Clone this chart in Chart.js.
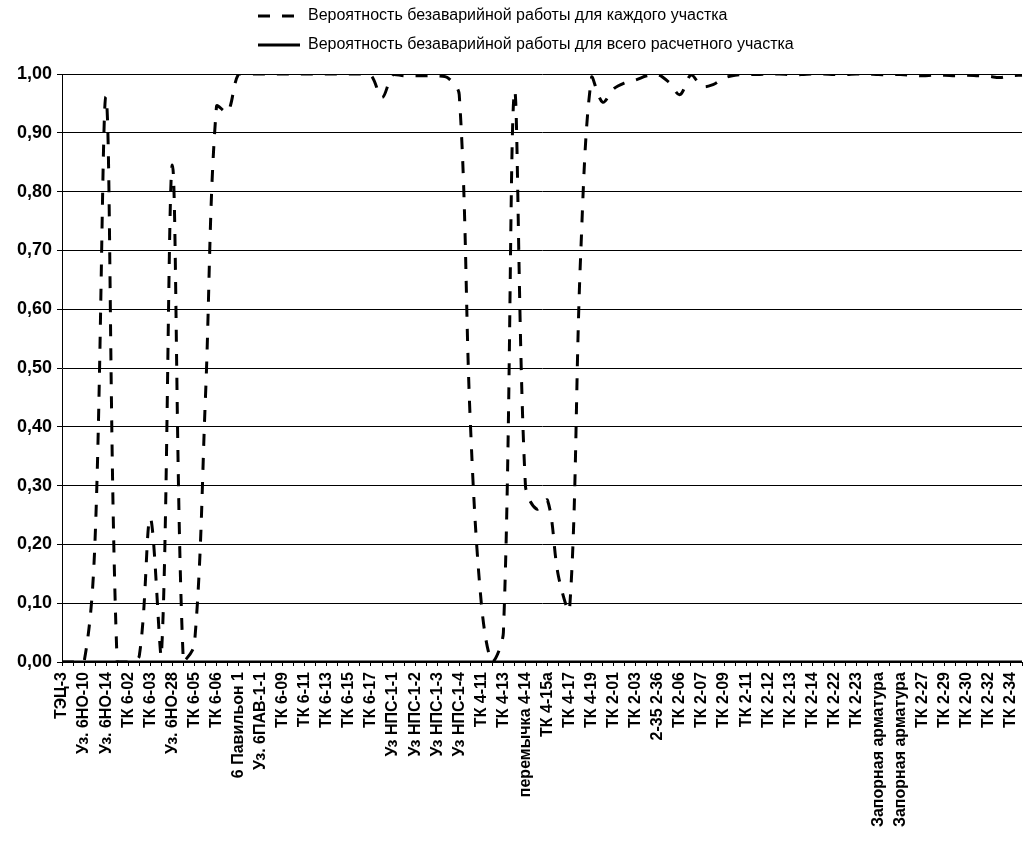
<!DOCTYPE html>
<html>
<head>
<meta charset="utf-8">
<script src="https://cdn.jsdelivr.net/npm/chart.js@4.4.1/dist/chart.umd.min.js"></script>
<style>
  html, body { margin: 0; padding: 0; background: #ffffff; }
  #c { display: block; }
</style>
</head>
<body>
<canvas id="c" width="1024" height="849"></canvas>
<script>
// ---- data ----
const axisLabels = [
  'ТЭЦ-3', 'Уз. 6НО-10', 'Уз. 6НО-14', 'ТК 6-02', 'ТК 6-03', 'Уз. 6НО-28', 'ТК 6-05', 'ТК 6-06',
  '6 Павильон 1', 'Уз. 6ПАВ-1-1', 'ТК 6-09', 'ТК 6-11', 'ТК 6-13', 'ТК 6-15', 'ТК 6-17',
  'Уз НПС-1-1', 'Уз НПС-1-2', 'Уз НПС-1-3', 'Уз НПС-1-4', 'ТК 4-11', 'ТК 4-13', 'перемычка 4-14',
  'ТК 4-15а', 'ТК 4-17', 'ТК 4-19', 'ТК 2-01', 'ТК 2-03', '2-35 2-36', 'ТК 2-06', 'ТК 2-07',
  'ТК 2-09', 'ТК 2-11', 'ТК 2-12', 'ТК 2-13', 'ТК 2-14', 'ТК 2-22', 'ТК 2-23',
  'Запорная арматура', 'Запорная арматура', 'ТК 2-27', 'ТК 2-29', 'ТК 2-30', 'ТК 2-32', 'ТК 2-34'
];

const seriesNames = [
  'Вероятность безаварийной работы для каждого участка',
  'Вероятность безаварийной работы для всего расчетного участка'
];

const probEachSection = [
  0, 0, 0, 0.21, 0.96, 0, 0, 0.01, 0.245, 0.01,
  0.845, 0, 0.03, 0.45, 0.945, 0.935, 1.0, 1.0, 1.0, 1.0,
  1.0, 1.0, 1.0, 1.0, 1.0, 1.0, 1.0, 1.0, 0.998, 0.96,
  0.999, 0.997, 0.997, 0.997, 0.997, 0.993, 0.965, 0.41, 0.10, 0.0,
  0.05, 0.97, 0.30, 0.26, 0.275, 0.145, 0.09, 0.69, 0.995, 0.952,
  0.975, 0.985, 0.99, 0.997, 0.999, 0.986, 0.965, 0.998, 0.979, 0.982,
  0.993, 0.998, 0.999, 0.999, 1.0, 1.0, 0.999, 0.999, 1.0, 1.0,
  0.999, 0.999, 1.0, 1.0, 0.999, 0.999, 0.999, 0.998, 0.997, 0.998,
  0.998, 0.997, 0.998, 0.997, 0.996, 0.994, 0.997, 0.998
];

const probWholeSection = [
  0, 0, 0, 0, 0, 0, 0, 0, 0, 0,
  0, 0, 0, 0, 0, 0, 0, 0, 0, 0,
  0, 0, 0, 0, 0, 0, 0, 0, 0, 0,
  0, 0, 0, 0, 0, 0, 0, 0, 0, 0,
  0, 0, 0, 0, 0, 0, 0, 0, 0, 0,
  0, 0, 0, 0, 0, 0, 0, 0, 0, 0,
  0, 0, 0, 0, 0, 0, 0, 0, 0, 0,
  0, 0, 0, 0, 0, 0, 0, 0, 0, 0,
  0, 0, 0, 0, 0, 0, 0, 0
];

const yTickLabels = ['0,00', '0,10', '0,20', '0,30', '0,40', '0,50', '0,60', '0,70', '0,80', '0,90', '1,00'];

// every second category carries a visible label
const categories = probEachSection.map((_, i) => (i % 2 === 0 && axisLabels[i / 2] !== undefined) ? axisLabels[i / 2] : '');

// ---- style ----
const FONT = "'Liberation Sans', Arial, sans-serif";

const legendPlacer = {
  id: 'legendPlacer',
  afterLayout(chart) {
    const lg = chart.legend;
    if (!lg) return;
    lg.left = 245;
    lg.right = 245 + 700;
    lg.top = -5;
    lg.bottom = lg.top + 200;
  }
};

new Chart(document.getElementById('c'), {
  type: 'line',
  data: {
    labels: categories,
    datasets: [
      {
        label: seriesNames[0],
        data: probEachSection,
        borderColor: '#000000',
        backgroundColor: '#000000',
        borderWidth: 3,
        borderDash: [12, 12],
        pointRadius: 0,
        tension: 0.35,
        fill: false
      },
      {
        label: seriesNames[1],
        data: probWholeSection,
        borderColor: '#000000',
        backgroundColor: '#000000',
        borderWidth: 3,
        pointRadius: 0,
        tension: 0,
        fill: false
      }
    ]
  },
  options: {
    responsive: false,
    animation: false,
    devicePixelRatio: 1,
    layout: { padding: { top: 74, left: 0, right: 2, bottom: 0 } },
    plugins: {
      tooltip: { enabled: false },
      title: { display: false },
      legend: {
        display: true,
        position: 'chartArea',
        align: 'start',
        labels: {
          color: '#000000',
          font: { family: FONT, size: 16 },
          usePointStyle: false,
          boxWidth: 42,
          boxHeight: 0,
          padding: 13
        }
      }
    },
    scales: {
      x: {
        type: 'category',
        offset: false,
        grid: {
          display: true,
          drawOnChartArea: false,
          drawTicks: true,
          tickLength: 4,
          color: '#000000',
          tickColor: '#000000',
          lineWidth: 1,
          offset: false
        },
        border: { display: true, color: '#000000', width: 1 },
        ticks: {
          autoSkip: false,
          minRotation: 90,
          maxRotation: 90,
          padding: 6,
          color: '#000000',
          font: { family: FONT, size: 16, weight: 'bold' }
        },
        afterFit(s) { s.height = 187; s.paddingLeft = 0; s.paddingRight = 0; }
      },
      y: {
        min: 0,
        max: 1,
        ticks: {
          stepSize: 0.1,
          padding: 5,
          color: '#000000',
          font: { family: FONT, size: 18, weight: 'bold' },
          callback: (v, i) => yTickLabels[i]
        },
        grid: { color: '#000000', lineWidth: 1, tickLength: 5, drawTicks: true },
        border: { display: true, color: '#000000', width: 1 },
        afterFit(s) { s.width = 62; }
      }
    }
  },
  plugins: [legendPlacer]
});
</script>
</body>
</html>
